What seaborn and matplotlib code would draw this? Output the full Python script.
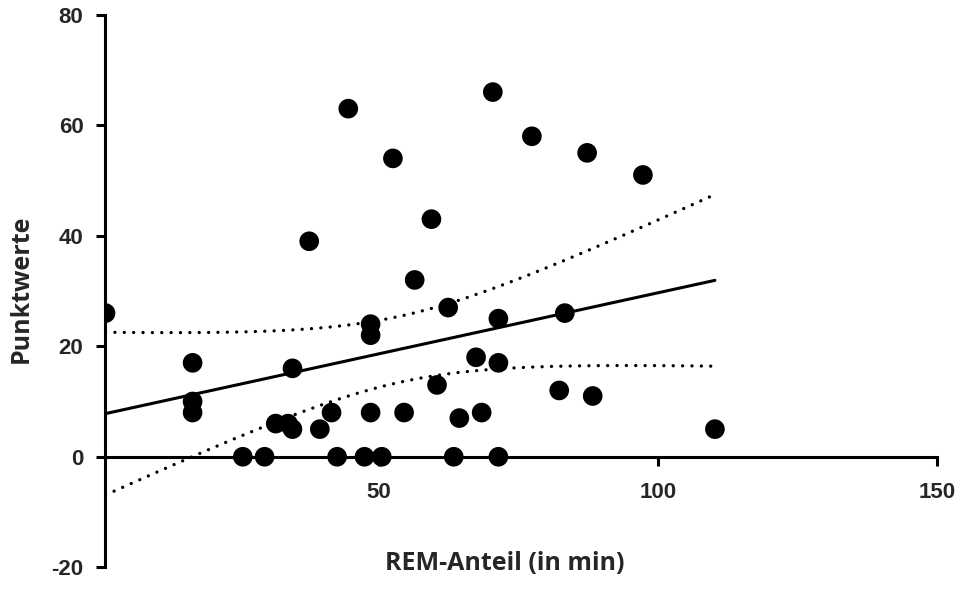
import numpy as np
import pandas as pd
import matplotlib
matplotlib.use("Agg")
import matplotlib.pyplot as plt
import seaborn as sns

# Data
rem_minutes = [1, 16.6, 16.6, 16.6, 34.5, 31.5, 33.7, 34.5, 25.6, 29.5,
               56.4, 48.5, 48.5, 62.4, 71.4, 67.4, 71.4, 60.4, 41.5, 39.4,
               48.5, 54.5, 64.4, 68.4, 42.5, 47.4, 50.5, 63.4, 71.4,
               83.3, 82.3, 88.3, 110.2, 44.5, 70.4, 52.5, 59.4, 37.5,
               77.4, 87.3, 97.3]
scores = [26, 17, 10, 8, 16, 6, 6, 5, 0, 0,
          32, 24, 22, 27, 25, 18, 17, 13, 8, 5,
          8, 8, 7, 8, 0, 0, 0, 0, 0,
          26, 12, 11, 5, 63, 66, 54, 43, 39,
          58, 55, 51]

x_ticks = [50, 100, 150]
y_ticks = [-20, 0, 20, 40, 60, 80]
x_label = "REM-Anteil (in min)"
y_label = "Punktwerte"

df = pd.DataFrame({"x": rem_minutes, "y": scores})

sns.set_style("ticks")
plt.rcParams['font.family'] = ['Liberation Sans', 'DejaVu Sans']

fig = plt.figure(figsize=(9.64, 5.96), dpi=100)
ax = fig.add_axes([0.1089, 0.0482, 0.972 - 0.1089, 0.9753 - 0.0482])

sns.regplot(data=df, x="x", y="y", ax=ax, ci=None, truncate=True,
            scatter_kws=dict(s=200, color="black", edgecolor="none", alpha=1, zorder=3),
            line_kws=dict(color="black", lw=2.2, zorder=2))

# 95% confidence bands of the regression line
x = np.asarray(rem_minutes, float)
y = np.asarray(scores, float)
n = len(x)
b1, b0 = np.polyfit(x, y, 1)
resid = y - (b0 + b1 * x)
s = np.sqrt(np.sum(resid ** 2) / (n - 2))
xbar = x.mean()
sxx = np.sum((x - xbar) ** 2)
t_crit = 2.0227  # t(0.975, df=39)
xg = np.linspace(x.min(), x.max(), 200)
yg = b0 + b1 * xg
se = s * np.sqrt(1.0 / n + (xg - xbar) ** 2 / sxx)
for band in (yg + t_crit * se, yg - t_crit * se):
    ax.plot(xg, band, color="black", lw=2.4, linestyle=(0, (0.01, 2.8)),
            dash_capstyle="round", zorder=2)

ax.set_xlim(0.9, 150)
ax.set_ylim(-20, 80)
ax.set_xticks(x_ticks)
ax.set_yticks(y_ticks)
ax.set_xticklabels([str(v) for v in x_ticks])
ax.set_yticklabels([str(v) for v in y_ticks])

for side in ("top", "right"):
    ax.spines[side].set_visible(False)
ax.spines["bottom"].set_position(("data", 0))
for side in ("left", "bottom"):
    ax.spines[side].set_linewidth(2.2)
    ax.spines[side].set_color("black")

ax.tick_params(axis="both", which="major", direction="out", length=6.5, width=2.2,
               color="black", labelsize=16, pad=9, bottom=True, left=True)
ax.tick_params(axis="x", pad=12)
for lab in ax.get_xticklabels() + ax.get_yticklabels():
    lab.set_fontweight("bold")

ax.set_xlabel("")
ax.set_ylabel("")
fig.text(0.524, 0.055, x_label, ha="center", va="center", fontsize=18,
         fontweight="bold", family=["Open Sans", "DejaVu Sans"])
fig.text(0.022, 0.515, y_label, ha="center", va="center", rotation=90, fontsize=18,
         fontweight="bold", family=["Open Sans", "DejaVu Sans"])

fig.savefig("out.png", dpi=100)
